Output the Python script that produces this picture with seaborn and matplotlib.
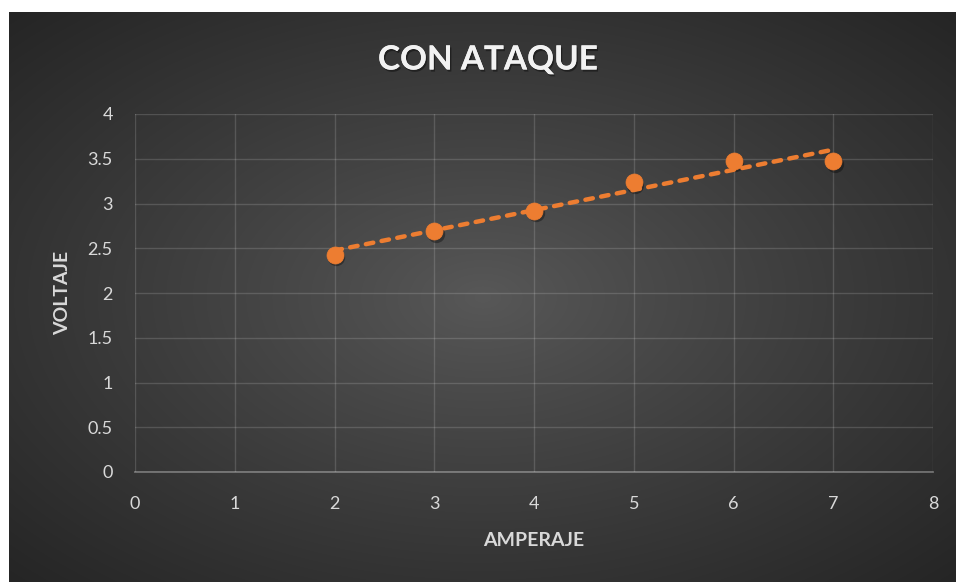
import numpy as np
import pandas as pd
import matplotlib
matplotlib.use("Agg")
import matplotlib.pyplot as plt
import matplotlib.transforms as mtransforms
import matplotlib.patheffects as pe
from matplotlib.ticker import FuncFormatter, MultipleLocator
import seaborn as sns

# Measured data
amperaje = [2, 3, 4, 5, 6, 7]
voltaje = [2.43, 2.69, 2.92, 3.24, 3.48, 3.47]

title_text = "CON ATAQUE"
x_label = "AMPERAJE"
y_label = "VOLTAJE"

df = pd.DataFrame({"AMPERAJE": amperaje, "VOLTAJE": voltaje})

sns.set_theme(style="dark")
plt.rcParams["font.family"] = ["Lato", "DejaVu Sans"]

W, H = 956, 582
fig = plt.figure(figsize=(W / 100, H / 100), dpi=100, facecolor="white")

# Chart area with radial gradient backdrop
bx0, by_top = 9, 12
bg_ax = fig.add_axes([bx0 / W, 0, (W - bx0) / W, (H - by_top) / H])
bg_ax.set_axis_off()
gw, gh = W - bx0, H - by_top
yy, xx = np.mgrid[0:gh, 0:gw]
cx, cy = gw * 0.50, gh * 0.50
r = np.sqrt(((xx - cx) / (gw / 2)) ** 2 + ((yy - cy) / (gh / 2)) ** 2) / np.sqrt(2)
r = np.clip(r, 0, 1)
c_in, c_out = 0x58 / 255, 0x25 / 255
val = c_in + (c_out - c_in) * r ** 0.9
img = np.dstack([val, val, val])
bg_ax.imshow(img, aspect="auto", extent=[0, 1, 0, 1], interpolation="bilinear")

# Plot area
L, R, T, B = 135, 933, 114, 472
ax = fig.add_axes([L / W, 1 - B / H, (R - L) / W, (B - T) / H])
ax.patch.set_alpha(0)

orange = "#ED7D31"

# Soft shadow under markers
shadow = mtransforms.offset_copy(ax.transData, fig=fig, x=1.5, y=-2.5, units="dots")
ax.scatter(amperaje, voltaje, s=155, color="black", alpha=0.35, linewidths=0,
           transform=shadow, zorder=3)

sns.scatterplot(data=df, x="AMPERAJE", y="VOLTAJE", ax=ax, s=150, color=orange,
                edgecolor=orange, linewidth=0.5, zorder=4, legend=False)

# Linear trendline
sns.regplot(data=df, x="AMPERAJE", y="VOLTAJE", ax=ax, scatter=False, ci=None,
            truncate=True,
            line_kws=dict(color=orange, lw=3.2, dashes=(1.7, 1.9),
                          dash_capstyle="round", zorder=5))

ax.set_xlim(0, 8)
ax.set_ylim(0, 4)
ax.xaxis.set_major_locator(MultipleLocator(1))
ax.yaxis.set_major_locator(MultipleLocator(0.5))
ax.yaxis.set_major_formatter(FuncFormatter(lambda v, p: f"{v:g}"))
ax.xaxis.set_major_formatter(FuncFormatter(lambda v, p: f"{v:g}"))

ax.grid(True, color="white", alpha=0.15, lw=1.0)
ax.set_axisbelow(True)
for s in ("top", "right", "left"):
    ax.spines[s].set_visible(False)
ax.spines["bottom"].set_visible(True)
ax.spines["bottom"].set_color((1, 1, 1, 0.32))
ax.spines["bottom"].set_linewidth(1.3)

tick_color = "#d9d9d9"
ax.tick_params(axis="x", length=0, pad=17, labelsize=13, labelcolor=tick_color)
ax.tick_params(axis="y", length=0, pad=16, labelsize=13, labelcolor=tick_color)

ax.set_xlabel(x_label, fontsize=14, fontweight="bold", color=tick_color, labelpad=15)
ax.set_ylabel(y_label, fontsize=14, fontweight="bold", color=tick_color, labelpad=12)

fig.text(488 / W, 1 - 60 / H, title_text, ha="center", va="center",
         fontsize=24, fontweight="bold", color="#f2f2f2",
         path_effects=[pe.withSimplePatchShadow(offset=(1, -1.5), shadow_rgbFace="black", alpha=0.4),
                       pe.Normal()])

fig.savefig("out.png", dpi=100, facecolor="white")
